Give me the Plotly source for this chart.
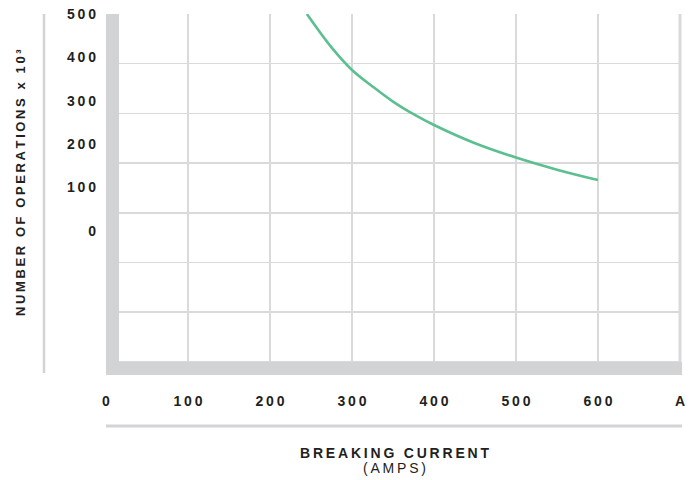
import plotly.graph_objects as go

# ---- data ----
current_amps = [245, 275, 300, 325, 350, 375, 400, 450, 500, 550, 600]
operations_k = [500, 423, 371, 333, 298, 269, 244, 202, 169, 141, 117]

x_tick_values = [0, 100, 200, 300, 400, 500, 600, 700]
x_tick_labels = ["0", "100", "200", "300", "400", "500", "600", "A"]
y_tick_values = [0, 100, 200, 300, 400, 500]
y_tick_labels = ["0", "100", "200", "300", "400", "500"]

y_title = "NUMBER OF OPERATIONS x 10³"
x_title = "BREAKING CURRENT"
x_subtitle = "(AMPS)"

# ---- style ----
TS = "\u2009"  # thin space used as letter spacing


def spaced(s):
    return TS.join(list(s))


FONT = "Liberation Sans, Arial, sans-serif"
TEXT = "#231f20"
BAND = "#d1d3d4"
GRID = "#dadada"
CURVE = "#5cbf8f"

W, H = 697, 480
ML, MR, MT, MB = 106, 17, 14, 105
PW = W - ML - MR
PH = H - MT - MB

Y_MIN = -332.6
GRID_STEP_Y = 114.6
grid_y = [500 - k * GRID_STEP_Y for k in range(8)]

fig = go.Figure()
fig.add_trace(go.Scatter(
    x=current_amps, y=operations_k, mode="lines",
    line=dict(color=CURVE, width=2.6, shape="spline", smoothing=1.0),
    hoverinfo="skip", showlegend=False,
))

fig.update_layout(
    width=W, height=H, autosize=False,
    margin=dict(l=ML, r=MR, t=MT, b=MB, pad=0, autoexpand=False),
    paper_bgcolor="white", plot_bgcolor="white",
    font=dict(family=FONT, color=TEXT, size=14),
    xaxis=dict(
        range=[0, 700], tickmode="array", tickvals=x_tick_values,
        ticktext=[spaced(t) for t in x_tick_labels],
        showgrid=True, gridcolor=GRID, gridwidth=1.5,
        zeroline=False, showline=False, ticks="", automargin=False,
        ticklabelstandoff=16,
        tickfont=dict(family=FONT, size=14, color=TEXT, weight="bold"),
    ),
    yaxis=dict(
        range=[Y_MIN, 500], tickmode="array", tickvals=y_tick_values,
        ticktext=[spaced(t) for t in y_tick_labels],
        showgrid=False, zeroline=False, showline=False, ticks="", automargin=False,
        ticklabelstandoff=9,
        tickfont=dict(family=FONT, size=14, color=TEXT, weight="bold"),
        minor=dict(tickmode="array", tickvals=grid_y, showgrid=True,
                   gridcolor=GRID, gridwidth=1.5, ticks=""),
    ),
)

shapes = [
    # thick left band
    dict(type="rect", xref="paper", yref="paper", x0=0, x1=13 / PW, y0=0, y1=1,
         fillcolor=BAND, line=dict(width=0), layer="above"),
    # thick bottom band
    dict(type="rect", xref="paper", yref="paper", x0=0, x1=(682 - ML) / PW, y0=0, y1=13 / PH,
         fillcolor=BAND, line=dict(width=0), layer="above"),
    # right edge
    dict(type="line", xref="paper", yref="paper", x0=1, x1=1, y0=13 / PH, y1=1,
         line=dict(color=GRID, width=3), layer="above"),
    # y-title rule
    dict(type="line", xref="paper", yref="paper", x0=-(ML - 44) / PW, x1=-(ML - 44) / PW,
         y0=2 / PH, y1=1, line=dict(color=BAND, width=2.5)),
    # x-title rule
    dict(type="line", xref="paper", yref="paper", x0=0, x1=(682 - ML) / PW,
         y0=-(426 - (MT + PH)) / PH, y1=-(426 - (MT + PH)) / PH,
         line=dict(color=BAND, width=3)),
]
fig.update_layout(shapes=shapes)

fig.add_annotation(
    text=spaced(y_title), textangle=-90, xref="paper", yref="paper",
    x=-(ML - 20) / PW, y=(MT + PH - 183) / PH, xanchor="center", yanchor="middle",
    showarrow=False, font=dict(family=FONT, size=13, color=TEXT, weight="bold"),
)
fig.add_annotation(
    text=spaced(x_title), xref="paper", yref="paper",
    x=(394 - ML) / PW, y=-(452.5 - (MT + PH)) / PH, xanchor="center", yanchor="middle",
    showarrow=False, font=dict(family=FONT, size=14, color=TEXT, weight="bold"),
)
fig.add_annotation(
    text=spaced(x_subtitle), xref="paper", yref="paper",
    x=(394 - ML) / PW, y=-(467.5 - (MT + PH)) / PH, xanchor="center", yanchor="middle",
    showarrow=False, font=dict(family=FONT, size=14, color=TEXT),
)

fig.write_html(
    "out.html",
    config={"displayModeBar": False, "staticPlot": True},
    post_script="document.body.style.margin='0';document.body.style.overflow='hidden';",
)
